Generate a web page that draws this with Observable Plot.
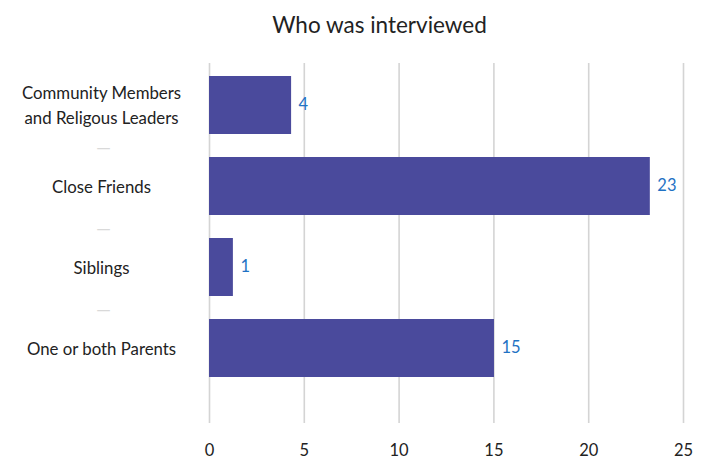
<!DOCTYPE html>
<html>
<head>
<meta charset="utf-8">
<script src="https://cdn.jsdelivr.net/npm/d3@7"></script>
<script src="https://cdn.jsdelivr.net/npm/@observablehq/plot@0.6"></script>
<style>
  body { margin: 0; background: #fff; font-family: Lato, "Open Sans", sans-serif; }
  #title { height: 50px; line-height: 50px; font-size: 22.5px; color: #222; text-align: center; padding-left: 52px; width: 655px; }
</style>
</head>
<body>
<div id="title">Who was interviewed</div>
<div id="chart"></div>
<script>
const categories = ["Community Members\nand Religous Leaders", "Close Friends", "Siblings", "One or both Parents"];
const values = [4.33, 23.25, 1.26, 15.03];
const valueLabels = ["4", "23", "1", "15"];
const xTicks = [0, 5, 10, 15, 20, 25];

const data = categories.map((c, i) => ({category: c, value: values[i], label: valueLabels[i]}));

const chart = Plot.plot({
  width: 707,
  height: 411,
  marginLeft: 209,
  marginRight: 24,
  marginTop: 13,
  marginBottom: 38,
  style: {fontFamily: "Lato, 'Open Sans', sans-serif", fontSize: "16px", color: "#222", background: "#fff"},
  x: {domain: [0, 25], ticks: xTicks},
  y: {domain: categories, range: [13, 339], paddingInner: 0.29, paddingOuter: 0.15, axis: null},
  marks: [
    Plot.gridX(xTicks, {stroke: "#d4d4d4", strokeOpacity: 1, strokeWidth: 1.6}),
    Plot.barX(data, {x: "value", y: "category", fill: "#4a4a9c"}),
    Plot.text(data, {x: "value", y: "category", text: "label", textAnchor: "start", dx: 7, dy: -1, fill: "#1f72c4", fontSize: 16.5}),
    Plot.axisX(xTicks, {tickSize: 0, tickPadding: 21, fontSize: 16.5, fill: "#222", label: null}),
    Plot.text(data, {y: "category", text: "category", frameAnchor: "left", dx: -108, dy: -2, textAnchor: "middle", fontSize: 16.8, fill: "#222", lineHeight: 1.5}),
    Plot.text(data.slice(0, 3), {y: "category", text: () => "—", frameAnchor: "left", dx: -106, dy: 42, textAnchor: "middle", fontSize: 19, fill: "#d9d9d9"})
  ]
});
document.getElementById("chart").appendChild(chart);
</script>
</body>
</html>
